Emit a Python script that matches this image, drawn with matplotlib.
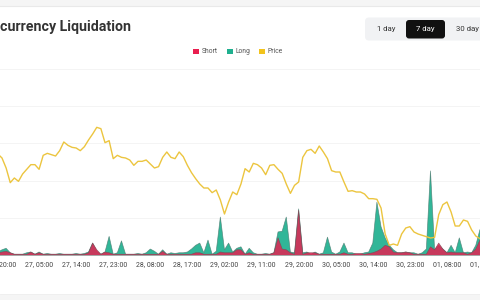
import matplotlib
matplotlib.use("Agg")
import matplotlib.pyplot as plt
import matplotlib.dates as mdates
from matplotlib.patches import FancyBboxPatch, Rectangle
import pandas as pd
import numpy as np

# ---------------- data (hourly, starting 26, 19:00) ----------------
price = [3419, 3413, 3398, 3376, 3383, 3378, 3389, 3396, 3403, 3403,
         3396, 3417, 3420, 3418, 3416, 3424, 3437, 3432, 3429, 3428,
         3424, 3430, 3440, 3449, 3459, 3457, 3436, 3439, 3412, 3417,
         3414, 3413, 3410, 3402, 3408, 3408, 3410, 3404, 3398, 3400,
         3414, 3422, 3414, 3412, 3422, 3415, 3402, 3391, 3382, 3374,
         3368, 3368, 3361, 3365, 3350, 3329, 3347, 3362, 3358, 3374,
         3397, 3392, 3405, 3403, 3398, 3388, 3402, 3403, 3396, 3390,
         3374, 3360, 3372, 3377, 3414, 3424, 3426, 3420, 3431, 3422,
         3412, 3394, 3392, 3392, 3377, 3363, 3364, 3362, 3362, 3359,
         3352, 3352, 3351, 3338, 3299, 3282, 3284, 3282, 3299, 3308,
         3310, 3302, 3299, 3297, 3295, 3293, 3294, 3328, 3343, 3347,
         3332, 3311, 3311, 3320, 3318, 3305, 3296, 3292, 3293]

long_m = [0.4, 0.7, 0.9, 0.3, 0.1, 0.1, 0.1, 0.3, 0.4, 0.1,
          0.4, 0.1, 0.2, 0.1, 0.1, 0.2, 0.1, 0.1, 0.1, 0.2,
          0.1, 0.2, 0.4, 1.6, 0.5, 0.1, 0.4, 2.5, 0.1, 0.3,
          1.9, 0.1, 0.1, 0.1, 0.2, 0.1, 0.3, 0.8, 0.5, 0.1,
          0.7, 0.1, 0.3, 0.2, 0.3, 0.3, 0.4, 0.8, 1.3, 1.6,
          0.3, 2.0, 0.1, 0.5, 5.1, 0.7, 1.6, 0.4, 0.9, 1.1,
          0.1, 0.9, 0.3, 0.1, 0.1, 0.2, 0.1, 0.3, 3.1, 3.2,
          5.1, 0.4, 0.3, 6.2, 0.3, 0.4, 0.1, 0.4, 0.1, 0.3,
          2.4, 0.4, 0.1, 0.4, 1.6, 0.3, 0.3, 0.1, 0.1, 0.3,
          0.4, 1.6, 7.1, 3.8, 2.3, 1.3, 0.7, 0.3, 0.3, 0.4,
          0.3, 0.3, 0.1, 0.3, 0.8, 11.3, 0.7, 1.3, 0.8, 0.3,
          1.3, 0.3, 2.3, 0.3, 0.4, 0.3, 1.3, 3.4, 3.8]

short_m = [0.3, 0.4, 0.5, 0.3, 0.1, 0.1, 0.1, 0.1, 0.4, 0.1,
           0.3, 0.1, 0.1, 0.1, 0.1, 0.1, 0.1, 0.1, 0.1, 0.1,
           0.1, 0.1, 0.3, 1.6, 0.7, 0.1, 0.4, 0.3, 0.1, 0.1,
           0.1, 0.1, 0.1, 0.1, 0.1, 0.1, 0.1, 0.1, 0.1, 0.1,
           0.5, 0.1, 0.1, 0.1, 0.1, 0.1, 0.1, 0.1, 0.3, 0.3,
           0.1, 0.1, 0.1, 0.1, 0.4, 0.3, 0.3, 0.3, 0.7, 0.7,
           0.1, 0.3, 0.1, 0.1, 0.1, 0.1, 0.1, 0.3, 2.3, 0.8,
           0.7, 0.3, 0.1, 6.0, 0.1, 0.3, 0.3, 0.3, 0.1, 0.1,
           0.1, 0.1, 0.1, 0.1, 0.3, 0.1, 0.1, 0.2, 0.2, 0.1,
           0.2, 0.3, 0.5, 0.8, 1.3, 1.1, 0.4, 0.3, 0.3, 0.4,
           0.3, 0.1, 0.1, 0.1, 0.1, 1.1, 0.7, 1.6, 0.8, 0.3,
           0.4, 0.3, 0.3, 0.3, 0.1, 0.3, 0.8, 2.0, 2.3]

start_time = "2024-04-26 19:00"
first_tick = "2024-04-26 20:00"
title_text = "currency Liquidation"
legend_labels = ["Short", "Long", "Price"]
buttons = ["1 day", "7 day", "30 day"]

RED = "#e91e4f"
TEAL = "#1fb08f"
YELLOW = "#ecc53f"

times = pd.date_range(start_time, periods=len(price), freq="h")
tick_times = pd.date_range(first_tick, periods=14, freq="9h")

FONT = "Roboto"

fig = plt.figure(figsize=(4.8, 3.0), dpi=100)
fig.patch.set_facecolor("white")

# ---------------- main chart ----------------
W, H = 480.0, 300.0
left_px, right_px = -20.0, 520.0
bot_px, top_px = 255.0, 69.0
ax = fig.add_axes([left_px / W, (H - bot_px) / H,
                   (right_px - left_px) / W, (bot_px - top_px) / H])
ax.set_facecolor("none")

t0 = times[0]
px_per_h = 4.12
x0_px = 2.0 - px_per_h  # pixel of times[0]
xmin = t0 + pd.Timedelta(hours=(left_px - x0_px) / px_per_h)
xmax = t0 + pd.Timedelta(hours=(right_px - x0_px) / px_per_h)

ax.fill_between(times, 0, long_m, color=TEAL, alpha=0.92, lw=0, zorder=2)
ax.plot(times, long_m, color="#4c7d72", lw=0.5, alpha=0.8, zorder=2.1)
ax.fill_between(times, 0, short_m, color=RED, alpha=0.82, lw=0, zorder=3)
ax.plot(times, short_m, color="#7a4a55", lw=0.5, alpha=0.8, zorder=3.1)

ax.set_xlim(xmin, xmax)
ax.set_ylim(0, 25)
ax.set_yticks([5, 10, 15, 20, 25])
ax.yaxis.grid(True, color="#f4f4f4", lw=0.7)
ax.set_axisbelow(True)
ax.tick_params(axis="y", length=0, labelleft=False)
ax.set_xticks(tick_times)
ax.xaxis.set_major_formatter(mdates.DateFormatter("%d, %H:%M"))
ax.tick_params(axis="x", length=0, pad=4.2, labelsize=5.0, labelcolor="#444")
for lab in ax.get_xticklabels():
    lab.set_fontfamily(FONT)
for s in ["top", "left", "right"]:
    ax.spines[s].set_visible(False)
ax.spines["bottom"].set_color("#999999")
ax.spines["bottom"].set_linewidth(0.6)

ax2 = ax.twinx()
ax2.plot(times, price, color=YELLOW, lw=1.0, zorder=5)
ax2.set_ylim(3650 - 1.5 * bot_px, 3650 - 1.5 * top_px)
ax2.set_xlim(xmin, xmax)
ax2.axis("off")

# ---------------- overlay in pixel units ----------------
ov = fig.add_axes([0, 0, 1, 1])
ov.set_xlim(0, W)
ov.set_ylim(H, 0)
ov.axis("off")
ov.set_facecolor("none")

ov.add_patch(Rectangle((0, 0), W, 6, color="#f5f5f5", lw=0))
ov.plot([0, W], [6, 6], color="#e9e9e9", lw=0.8)
ov.add_patch(Rectangle((0, 294), W, 6, color="#f5f5f5", lw=0))
ov.plot([0, W], [294, 294], color="#efefef", lw=0.6)

ov.text(-0.5, 27.5, title_text, fontsize=10.2, fontweight="bold",
        color="#333333", family=FONT, ha="left", va="center")

# buttons
ov.add_patch(FancyBboxPatch((365, 17.5), 130, 23, boxstyle="round,pad=0,rounding_size=4",
                            fc="#f1f2f4", ec="none"))
ov.add_patch(FancyBboxPatch((406, 20), 39, 18.5, boxstyle="round,pad=0,rounding_size=3",
                            fc="#111111", ec="none"))
ov.text(386, 29.3, buttons[0], fontsize=5.6, color="#333", family=FONT,
        ha="center", va="center")
ov.text(425.5, 29.3, buttons[1], fontsize=5.6, color="white", family=FONT,
        ha="center", va="center")
ov.text(467.5, 29.3, buttons[2], fontsize=5.6, color="#333", family=FONT,
        ha="center", va="center")

# legend
leg_x = [193.3, 226.7, 259.0]
leg_c = [RED, TEAL, "#f2c31c"]
for lx, lc, lt in zip(leg_x, leg_c, legend_labels):
    ov.add_patch(Rectangle((lx, 48.8), 5.8, 5.6, color=lc, lw=0))
    ov.text(lx + 8.8, 51.6, lt, fontsize=4.9, color="#555", family=FONT,
            ha="left", va="center")

fig.savefig("out.png", dpi=100)
